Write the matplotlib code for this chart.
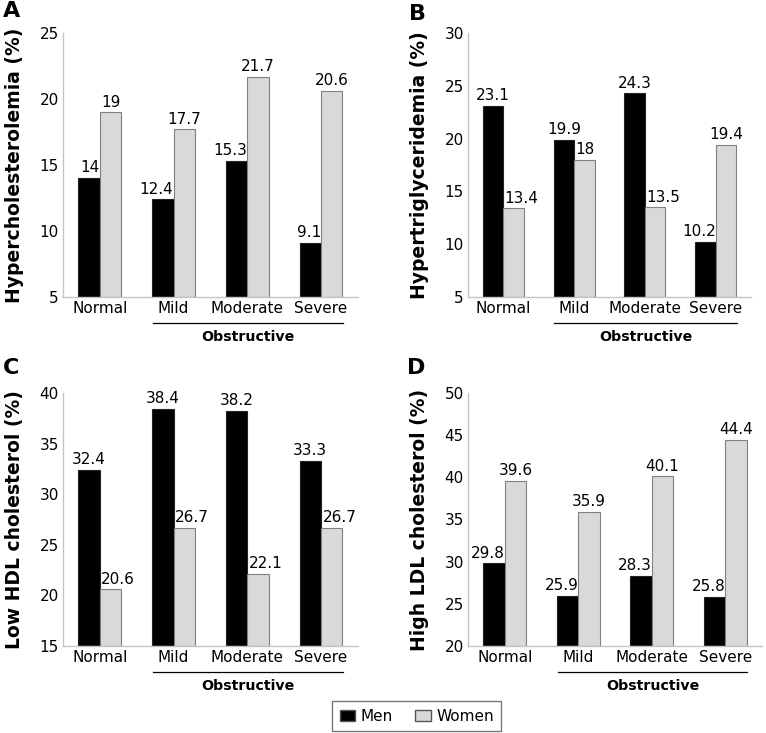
import numpy as np
import matplotlib.pyplot as plt
from matplotlib.patches import Patch
import matplotlib.transforms as mtransforms

plt.rcParams['font.family'] = ['DejaVu Sans']

# data
groups = ["Normal", "Mild", "Moderate", "Severe"]

hyperchol_men = [14, 12.4, 15.3, 9.1]
hyperchol_women = [19, 17.7, 21.7, 20.6]

hypertrig_men = [23.1, 19.9, 24.3, 10.2]
hypertrig_women = [13.4, 18, 13.5, 19.4]

lowhdl_men = [32.4, 38.4, 38.2, 33.3]
lowhdl_women = [20.6, 26.7, 22.1, 26.7]

highldl_men = [29.8, 25.9, 28.3, 25.8]
highldl_women = [39.6, 35.9, 40.1, 44.4]

panels = [
    ("A", "Hypercholesterolemia (%)", hyperchol_men, hyperchol_women, (5, 25)),
    ("B", "Hypertriglyceridemia (%)", hypertrig_men, hypertrig_women, (5, 30)),
    ("C", "Low HDL cholesterol (%)", lowhdl_men, lowhdl_women, (15, 40)),
    ("D", "High LDL cholesterol (%)", highldl_men, highldl_women, (20, 50)),
]

# axes rectangles in figure fractions
rects = [
    [0.0822, 0.5948, 0.385, 0.360],
    [0.611, 0.5948, 0.3695, 0.360],
    [0.0822, 0.1187, 0.385, 0.3452],
    [0.611, 0.1187, 0.3838, 0.3452],
]
letter_pos = [(0.004, 0.999), (0.534, 0.995), (0.004, 0.512), (0.531, 0.512)]

men_color = "#000000"
women_color = "#d9d9d9"
spine_color = "#c4c4c4"
w = 0.29
fs = 11

fig = plt.figure(figsize=(7.66, 7.33), dpi=100)
x = np.arange(len(groups))

for (letter, ylab, men, women, ylim), rect, lp in zip(panels, rects, letter_pos):
    ax = fig.add_axes(rect)
    b1 = ax.bar(x - w / 2, np.array(men) - ylim[0], w, bottom=ylim[0],
                color=men_color, edgecolor="#222222", linewidth=0.8)
    b2 = ax.bar(x + w / 2, np.array(women) - ylim[0], w, bottom=ylim[0],
                color=women_color, edgecolor="#808080", linewidth=0.8)
    # labels: centered, but pushed away from a taller neighbour bar
    for i in range(len(groups)):
        m, f = men[i], women[i]
        bm, bf = b1[i], b2[i]
        if f > m:
            ax.annotate(f"{m:g}", (bm.get_x() + bm.get_width(), m), xytext=(0, 2),
                        textcoords="offset points", ha="right", va="bottom", fontsize=fs)
            ax.annotate(f"{f:g}", (bf.get_x() + bf.get_width() / 2, f), xytext=(0, 2),
                        textcoords="offset points", ha="center", va="bottom", fontsize=fs)
        else:
            ax.annotate(f"{m:g}", (bm.get_x() + bm.get_width() / 2, m), xytext=(0, 2),
                        textcoords="offset points", ha="center", va="bottom", fontsize=fs)
            ax.annotate(f"{f:g}", (bf.get_x(), f), xytext=(1, 2),
                        textcoords="offset points", ha="left", va="bottom", fontsize=fs)
    ax.set_xlim(-0.5, 3.5)
    ax.set_ylim(*ylim)
    ax.set_yticks(np.arange(ylim[0], ylim[1] + 1, 5))
    ax.set_xticks(x)
    ax.set_xticklabels(groups)
    ax.tick_params(length=0, labelsize=fs, pad=3)
    for s in ("top", "right"):
        ax.spines[s].set_visible(False)
    for s in ("left", "bottom"):
        ax.spines[s].set_color(spine_color)
        ax.spines[s].set_linewidth(1.0)
    ax.set_ylabel(ylab, fontsize=13.5, fontweight="bold", labelpad=11)

    # obstructive bracket under Mild..Severe
    trans = mtransforms.blended_transform_factory(ax.transData, ax.transAxes)
    yline = -26 / (rect[3] * 733)
    ytext = -40 / (rect[3] * 733)
    ax.plot([1 - 0.28, 3 + 0.3], [yline, yline], color="black", lw=0.9,
            transform=trans, clip_on=False)
    ax.text(2 + 0.01, ytext, "Obstructive", transform=trans, ha="center",
            va="center", fontsize=10.2, fontweight="bold")

    fig.text(lp[0], lp[1], letter, fontsize=16, fontweight="bold",
             ha="left", va="top")

handles = [Patch(facecolor=men_color, edgecolor="#555555", label="Men"),
           Patch(facecolor=women_color, edgecolor="#555555", label="Women")]
leg = fig.legend(handles=handles, loc="lower center", bbox_to_anchor=(0.544, 0.0),
                 ncol=2, frameon=True, fancybox=False, fontsize=fs,
                 handlelength=1.0, handleheight=0.7, handletextpad=0.35,
                 columnspacing=1.5, borderpad=0.5, borderaxespad=0.1)
leg.get_frame().set_edgecolor("#555555")
leg.get_frame().set_linewidth(1.0)

fig.savefig("out.png", dpi=100)
